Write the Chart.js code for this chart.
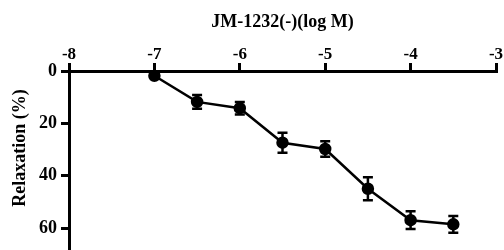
<!DOCTYPE html>
<html>
<head>
<meta charset="utf-8">
<script src="https://cdn.jsdelivr.net/npm/chart.js@4"></script>
<style>
  html, body { margin: 0; padding: 0; background: #fff; }
  #wrap { width: 504px; height: 250px; }
</style>
</head>
<body>
<div id="wrap"><canvas id="chart" width="504" height="250"></canvas></div>
<script>
// log concentration (M)
const logConc = [-7, -6.5, -6, -5.5, -5, -4.5, -4, -3.5];
// relaxation, % (mean)
const relaxation = [1.8, 11.8, 14.2, 27.4, 29.8, 45.0, 57.0, 58.6];
// SEM
const sem = [0, 2.6, 2.4, 3.8, 3.0, 4.4, 3.4, 3.2];
const xTicks = [-8, -7, -6, -5, -4, -3];
const yTicks = [0, 20, 40, 60];

const serif = '"Liberation Serif", "Times New Roman", serif';

// error bars drawn through the chart scales
const errorBars = {
    id: 'errorBars',
    afterDatasetsDraw(chart) {
        const ctx = chart.ctx;
        const xs = chart.scales.x;
        const ys = chart.scales.y;
        ctx.save();
        ctx.strokeStyle = '#000';
        ctx.lineWidth = 2.5;
        logConc.forEach((x, i) => {
            if (!sem[i]) return;
            const px = xs.getPixelForValue(x);
            const top = ys.getPixelForValue(relaxation[i] - sem[i]);
            const bot = ys.getPixelForValue(relaxation[i] + sem[i]);
            ctx.beginPath();
            ctx.moveTo(px, top); ctx.lineTo(px, bot);
            ctx.moveTo(px - 5, top); ctx.lineTo(px + 5, top);
            ctx.moveTo(px - 5, bot); ctx.lineTo(px + 5, bot);
            ctx.stroke();
        });
        ctx.restore();
    }
};

// y title, sits a bit above the middle of the axis like the original
const yTitle = {
    id: 'yTitle',
    afterDraw(chart) {
        const ctx = chart.ctx;
        ctx.save();
        ctx.translate(20, 148);
        ctx.rotate(-Math.PI / 2);
        ctx.fillStyle = '#000';
        ctx.font = 'bold 18px ' + serif;
        ctx.textAlign = 'center';
        ctx.textBaseline = 'middle';
        ctx.fillText('Relaxation (%)', 0, 0);
        ctx.restore();
    }
};

function drawChart() {
    new Chart(document.getElementById('chart').getContext('2d'), {
        type: 'line',
        data: {
            datasets: [{
                data: logConc.map((x, i) => ({ x: x, y: relaxation[i] })),
                borderColor: '#000',
                borderWidth: 2.5,
                backgroundColor: '#000',
                pointBackgroundColor: '#000',
                pointBorderColor: '#000',
                pointRadius: 5,
                tension: 0,
                fill: false
            }]
        },
        options: {
            responsive: false,
            animation: false,
            // the y axis runs off the bottom edge in the original
            layout: { autoPadding: false, padding: { left: 0, right: 8, top: 0, bottom: 0 } },
            plugins: { legend: { display: false }, tooltip: { enabled: false } },
            scales: {
                x: {
                    type: 'linear',
                    position: 'top',
                    min: -8,
                    max: -3,
                    afterBuildTicks: (scale) => { scale.ticks = xTicks.map(v => ({ value: v })); },
                    afterFit: (scale) => { scale.height = 71; },
                    border: { display: true, color: '#000', width: 3 },
                    grid: { drawOnChartArea: false, drawTicks: true, tickLength: 8, color: '#000', lineWidth: 3 },
                    ticks: {
                        color: '#000',
                        padding: -2,
                        maxRotation: 0,
                        font: { family: serif, size: 17, weight: 'bold' }
                    },
                    title: {
                        display: true,
                        text: 'JM-1232(-)(log M)',
                        color: '#000',
                        padding: { top: 12, bottom: 4 },
                        font: { family: serif, size: 18, weight: 'bold' }
                    }
                },
                y: {
                    type: 'linear',
                    reverse: true,
                    min: 0,
                    max: 68.4,
                    afterBuildTicks: (scale) => { scale.ticks = yTicks.map(v => ({ value: v })); },
                    afterFit: (scale) => {
                        scale.width = 69;
                        scale.paddingTop = 0;
                        scale.paddingBottom = 0;
                    },
                    border: { display: true, color: '#000', width: 3 },
                    grid: { drawOnChartArea: false, drawTicks: true, tickLength: 8, color: '#000', lineWidth: 3 },
                    ticks: {
                        color: '#000',
                        padding: 4,
                        font: { family: serif, size: 18, weight: 'bold' }
                    }
                }
            }
        },
        plugins: [errorBars, yTitle]
    });
}

document.fonts.load('bold 16px "Liberation Serif"').then(drawChart, drawChart);
</script>
</body>
</html>
